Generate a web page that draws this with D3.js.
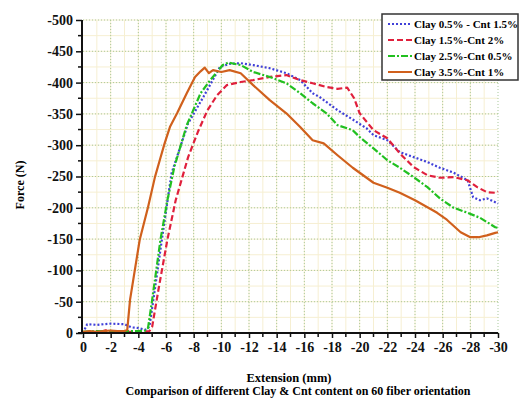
<!DOCTYPE html>
<html>
<head>
<meta charset="utf-8">
<script src="https://cdn.jsdelivr.net/npm/d3@7"></script>
<style>
  body { margin: 0; background: #fff; }
  svg { display: block; }
  .axis text { font-family: "Liberation Serif", "DejaVu Serif", serif; font-weight: bold; font-size: 14px; fill: #111; }
  .axis path, .axis line { stroke: #111; }
</style>
</head>
<body>
<div class="chart"></div>
<script>
// Extension (mm) and force (N)
const blueX = [0,-0.3,-1,-2,-3,-3.5,-4,-4.5,-4.8,-5.1,-5.7,-6.4,-7.6,-8.7,-9.3,-9.9,-10.6,-11.4,-12.3,-13.5,-14.7,-15.7,-16.6,-17.1,-18.4,-19.5,-20.5,-21,-22,-22.9,-23.9,-24.9,-25.8,-26.8,-27.8,-28.2,-28.7,-29.2,-29.8,-30];
const blueF = [0,-14,-13,-15,-14,-9,-8,-5,-10,-55,-149,-255,-335,-377,-401,-425,-430,-431,-428,-423,-415,-404,-383,-377,-356,-341,-327,-316,-308,-289,-281,-273,-264,-256,-244,-217,-212,-215,-209,-207];

const redX = [0,-1,-1.8,-2,-2.3,-3,-4,-4.8,-5.0,-5.5,-6.1,-6.7,-7.6,-8.3,-9.0,-9.7,-10.4,-11.4,-12.3,-13.5,-14.7,-15.7,-16.6,-17.6,-18.4,-19.1,-19.6,-20,-21,-22,-22.9,-23.9,-24.9,-25.8,-26.8,-27.8,-28.5,-29.2,-29.8,-30];
const redF = [0,-1,-5,-2,-1,-2,-2,-3,-10,-75,-149,-212,-281,-321,-356,-380,-396,-401,-404,-409,-412,-404,-399,-393,-390,-392,-375,-351,-324,-311,-287,-265,-252,-248,-249,-244,-233,-225,-224,-226];

const greenX = [0,-1,-2,-3,-4,-4.5,-4.7,-5.0,-5.6,-6.1,-6.6,-7.5,-8.5,-9.2,-10.1,-10.5,-11.4,-12.3,-13.5,-14.7,-15.7,-16.6,-17.6,-18.4,-19.5,-20,-21,-22,-22.9,-23.9,-24.9,-25.8,-26.8,-27.8,-28.7,-29.8,-30];
const greenF = [-2,-3,-2,-3,-3,-4,-8,-53,-149,-212,-265,-332,-383,-404,-428,-432,-428,-417,-409,-399,-383,-367,-351,-332,-324,-313,-295,-276,-264,-249,-233,-215,-200,-192,-184,-169,-168];

const orangeX = [0,-0.5,-1,-1.5,-2,-2.5,-3,-3.2,-3.4,-4.1,-4.7,-5.2,-5.6,-5.9,-6.3,-6.8,-7.5,-8.1,-8.5,-8.8,-9.1,-9.4,-10,-10.6,-11.4,-12.3,-13.5,-14.7,-15.7,-16.6,-17.4,-18.4,-19.5,-20,-21,-22,-22.9,-24,-24.9,-25.6,-26.3,-27.3,-28,-28.6,-29.2,-29.8,-30];
const orangeF = [-2,-3,-2,-3,-4,-3,-3,-5,-53,-149,-201,-249,-280,-303,-330,-351,-383,-409,-418,-424,-415,-420,-417,-420,-415,-396,-372,-351,-329,-308,-303,-284,-264,-256,-240,-232,-224,-212,-201,-192,-181,-161,-153,-153,-156,-160,-161];

const seriesNames = ["Clay 0.5% - Cnt 1.5%", "Clay 1.5%-Cnt 2%", "Clay 2.5%-Cnt 0.5%", "Clay 3.5%-Cnt 1%"];
const seriesColors = ["#4040d8", "#e0203c", "#22c020", "#d0601c"];
const seriesDash = ["2,2", "6,3", "7,2,2,2", null];

const xTicks = d3.range(0, -31, -2);
const yTicks = d3.range(0, -501, -50);

const series = [
  { x: blueX, f: blueF },
  { x: redX, f: redF },
  { x: greenX, f: greenF },
  { x: orangeX, f: orangeF }
].map((s, i) => ({
  name: seriesNames[i], color: seriesColors[i], dash: seriesDash[i],
  values: s.x.map((v, j) => ({ x: v, f: s.f[j] }))
}));

const W = 521, H = 398;
const svg = d3.select(".chart").append("svg").attr("width", W).attr("height", H);

const x = d3.scaleLinear().domain([0, -30]).range([83, 498]);
const y = d3.scaleLinear().domain([0, -500]).range([333, 20]);

// grid: faint yellow minor lines, dotted green majors
const grid = svg.append("g");
grid.selectAll(".vmin").data(d3.range(-1, -30, -1)).enter().append("line")
  .attr("x1", d => x(d)).attr("x2", d => x(d)).attr("y1", y(0)).attr("y2", y(-500))
  .attr("stroke", "#f6efd2").attr("stroke-width", 1);
grid.selectAll(".hmin").data(d3.range(-25, -501, -25)).enter().append("line")
  .attr("x1", x(0)).attr("x2", x(-30)).attr("y1", d => y(d)).attr("y2", d => y(d))
  .attr("stroke", "#f6efd2").attr("stroke-width", 1);
grid.selectAll(".vmaj").data(xTicks.slice(1)).enter().append("line")
  .attr("x1", d => x(d)).attr("x2", d => x(d)).attr("y1", y(0)).attr("y2", y(-500))
  .attr("stroke", "#a9c99c").attr("stroke-width", 1).attr("stroke-dasharray", "1,2");
grid.selectAll(".hmaj").data(yTicks.slice(1)).enter().append("line")
  .attr("x1", x(0)).attr("x2", x(-30)).attr("y1", d => y(d)).attr("y2", d => y(d))
  .attr("stroke", "#a9c99c").attr("stroke-width", 1).attr("stroke-dasharray", "1,2");

// curves
const line = d3.line().x(d => x(d.x)).y(d => y(d.f));
svg.selectAll(".series").data(series).enter().append("path")
  .attr("fill", "none")
  .attr("stroke", d => d.color)
  .attr("stroke-width", 2.2)
  .attr("stroke-dasharray", d => d.dash)
  .attr("stroke-linejoin", "round")
  .attr("d", d => line(d.values));

// axes (labels use a plain hyphen, as in the reference)
const fmt = d => String(d);
const xAxis = svg.append("g").attr("class", "axis")
  .attr("transform", `translate(0,${y(0)})`)
  .call(d3.axisBottom(x).tickValues(xTicks).tickFormat(fmt).tickSize(5).tickPadding(4));
xAxis.append("g").selectAll("line").data(d3.range(-1, -30, -2)).enter().append("line")
  .attr("x1", d => x(d)).attr("x2", d => x(d)).attr("y2", 4).attr("stroke", "#111").attr("stroke-width", 1.5);
xAxis.select(".domain").attr("stroke-width", 2).attr("d", `M${x(0) - 5},0H${x(-30)}`);
xAxis.selectAll(".tick line").attr("stroke-width", 1.5);

const yAxis = svg.append("g").attr("class", "axis")
  .attr("transform", `translate(${x(0) - 1},0)`)
  .call(d3.axisLeft(y).tickValues(yTicks).tickFormat(fmt).tickSize(6).tickPadding(3));
yAxis.append("g").selectAll("line").data(d3.range(-25, -500, -50)).enter().append("line")
  .attr("y1", d => y(d)).attr("y2", d => y(d)).attr("x2", -4).attr("stroke", "#111").attr("stroke-width", 1.5);
yAxis.select(".domain").attr("stroke-width", 2).attr("d", `M0,${y(0) + 1}V${y(-500)}`);
yAxis.selectAll(".tick line").attr("stroke-width", 1.5);

// axis titles
const serif = "'Liberation Serif', 'DejaVu Serif', serif";
svg.append("text").text("Extension (mm)")
  .attr("x", 289).attr("y", 382).attr("text-anchor", "middle")
  .attr("font-family", serif).attr("font-weight", "bold").attr("font-size", 12.5);
svg.append("text").text("Comparison of different Clay & Cnt content on 60 fiber orientation")
  .attr("x", 298).attr("y", 395).attr("text-anchor", "middle")
  .attr("font-family", serif).attr("font-weight", "bold").attr("font-size", 12);
svg.append("text").text("Force (N)")
  .attr("transform", "translate(24,185) rotate(-90)").attr("text-anchor", "middle")
  .attr("font-family", serif).attr("font-weight", "bold").attr("font-size", 12);

// legend
const legend = svg.append("g").attr("transform", "translate(382,14)");
legend.append("rect").attr("width", 136).attr("height", 66)
  .attr("fill", "#fff").attr("stroke", "#333").attr("stroke-width", 1.5);
const item = legend.selectAll(".item").data(series).enter().append("g")
  .attr("transform", (d, i) => `translate(0,${10 + i * 16})`);
item.append("line").attr("x1", 6).attr("x2", 30)
  .attr("stroke", d => d.color).attr("stroke-width", 2).attr("stroke-dasharray", d => d.dash);
item.append("text").text(d => d.name)
  .attr("x", 32).attr("dy", "0.35em")
  .attr("font-family", serif).attr("font-weight", "bold").attr("font-size", 11);
</script>
</body>
</html>
